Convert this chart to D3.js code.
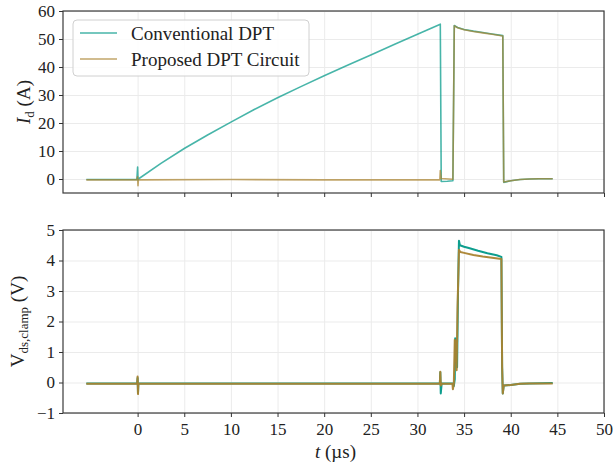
<!DOCTYPE html>
<html>
<head>
<meta charset="utf-8">
<script src="https://cdn.jsdelivr.net/npm/d3@7"></script>
<style>
  body { margin: 0; background: #fff; }
  svg { display: block; font-family: "Liberation Serif", "DejaVu Serif", serif; }
  .grid .tick line { stroke: #ebebeb; stroke-width: 1; }
  .grid path { display: none; }
  .axis .tick text { font-family: "Liberation Serif", "DejaVu Serif", serif; font-size: 17px; fill: #222; }
  .axis .tick line { stroke: #333; }
</style>
</head>
<body>
<svg width="613" height="465"></svg>
<script>
// time axis ticks (µs)
var t_ticks = [0, 5, 10, 15, 20, 25, 30, 35, 40, 45, 50];
var id_ticks = [0, 10, 20, 30, 40, 50, 60];
var v_ticks = [-1, 0, 1, 2, 3, 4, 5];

var series_names = ["Conventional DPT", "Proposed DPT Circuit"];

// drain current I_d (A), [t, value]
var id_conventional = [
    [-5.5, -0.2], [-0.08, -0.2], [0, 4.3], [0.04, -0.4], [0.08, 0],
    [2.5, 5.6], [5, 10.9], [7.5, 15.7], [10, 20.3], [12.5, 24.8], [15, 29.0],
    [17.5, 33.0], [20, 36.9], [22.5, 40.6], [25, 44.3], [27.5, 48.0], [30, 51.7], [32.45, 55.3],
    [32.55, -0.9], [33.2, -0.8], [33.8, -0.6],
    [33.95, 54.8], [34.3, 54.1], [35, 53.4], [36, 52.8], [37, 52.3], [38, 51.8], [39.15, 51.2],
    [39.25, -1.2], [40, -0.6], [41, -0.2], [42, 0], [43, 0.1], [44.5, 0.1]
];
var id_proposed = [
    [-5.5, -0.3], [-0.08, -0.3], [0, 0.8], [0.04, -2.4], [0.08, -0.3],
    [10, -0.2], [20, -0.3], [32.4, -0.3], [32.45, 3.0], [32.55, 0.2], [33.8, -0.1],
    [33.95, 54.7], [34.3, 54.0], [35, 53.3], [36, 52.7], [37, 52.2], [38, 51.7], [39.15, 51.1],
    [39.25, -1.1], [40, -0.6], [41, -0.2], [42, 0], [43, 0.1], [44.5, 0.1]
];

// clamp voltage V_ds,clamp (V), [t, value]
var v_conventional = [
    [-5.5, -0.03], [-0.05, -0.03], [0, 0.15], [0.04, -0.35], [0.08, -0.03],
    [32.4, -0.03], [32.45, 0.34], [32.5, -0.36], [32.6, -0.03], [33.8, -0.03],
    [33.9, -0.12], [34.0, 0.1], [34.05, 1.45], [34.15, 1.4], [34.25, 0.5], [34.35, 3.0],
    [34.45, 4.65], [34.55, 4.5], [35, 4.45], [35.6, 4.4], [36.5, 4.32], [37.5, 4.24], [38.5, 4.17], [39.0, 4.12],
    [39.08, 0.5], [39.15, -0.36], [39.25, -0.1], [40, -0.08], [41, -0.04], [42, -0.03], [44.5, -0.02]
];
var v_proposed = [
    [-5.5, -0.04], [-0.05, -0.04], [0, 0.2], [0.04, -0.38], [0.08, -0.04],
    [32.4, -0.04], [32.45, 0.35], [32.5, -0.1], [32.6, -0.04], [33.75, -0.04],
    [33.8, -0.22], [33.9, -0.05], [34.0, 1.4], [34.1, 1.3], [34.2, 0.4], [34.3, 2.5],
    [34.45, 4.35], [34.6, 4.28], [35, 4.25], [36, 4.18], [37, 4.13], [38, 4.09], [39.0, 4.05],
    [39.08, 0.5], [39.15, -0.36], [39.25, -0.1], [40, -0.08], [41, -0.04], [42, -0.03], [44.5, -0.03]
];

var color_teal = "#009988";
var color_gold = "#aa8330";

var svg = d3.select("svg");
var left = 63, right = 604;

var x = d3.scaleLinear().domain([-8, 50]).range([left, right]);

var panels = [
    { top: 11, bottom: 193, domain: [-5, 60], ticks: id_ticks, data: [id_conventional, id_proposed],
      opacity: 0.72, width: 1.6, labels: false },
    { top: 230, bottom: 413, domain: [-1, 5], ticks: v_ticks, data: [v_conventional, v_proposed],
      opacity: 0.95, width: 2.0, labels: true }
];

panels.forEach(function(p) {
    var y = d3.scaleLinear().domain(p.domain).range([p.bottom, p.top]);
    var g = svg.append("g");

    // grid
    g.append("g").attr("class", "grid")
        .attr("transform", "translate(0," + p.bottom + ")")
        .call(d3.axisBottom(x).tickValues(t_ticks).tickSize(-(p.bottom - p.top)).tickFormat(""));
    g.append("g").attr("class", "grid")
        .attr("transform", "translate(" + left + ",0)")
        .call(d3.axisLeft(y).tickValues(p.ticks).tickSize(-(right - left)).tickFormat(""));

    // lines
    var line = d3.line().x(function(d) { return x(d[0]); }).y(function(d) { return y(d[1]); });
    var cols = [color_teal, color_gold];
    p.data.forEach(function(s, i) {
        g.append("path").datum(s)
            .attr("d", line)
            .attr("fill", "none")
            .attr("stroke", cols[i])
            .attr("stroke-opacity", p.opacity)
            .attr("stroke-width", p.width)
            .attr("stroke-linejoin", "round");
    });

    // frame
    g.append("rect")
        .attr("x", left).attr("y", p.top)
        .attr("width", right - left).attr("height", p.bottom - p.top)
        .attr("fill", "none").attr("stroke", "#3a3a3a").attr("stroke-width", 1.2);

    // axes
    var yAxis = g.append("g").attr("class", "axis")
        .attr("transform", "translate(" + left + ",0)")
        .call(d3.axisLeft(y).tickValues(p.ticks).tickSize(4).tickPadding(4)
            .tickFormat(function(d) { return d < 0 ? "\u2212" + Math.abs(d) : d; }));
    yAxis.select(".domain").remove();

    var xAxis = g.append("g").attr("class", "axis")
        .attr("transform", "translate(0," + p.bottom + ")")
        .call(d3.axisBottom(x).tickValues(t_ticks).tickSize(4).tickPadding(6)
            .tickFormat(p.labels ? d3.format("d") : ""));
    xAxis.select(".domain").remove();
    p.y = y;
});

// y labels
var yl1 = svg.append("text")
    .attr("transform", "translate(30," + (panels[0].top + panels[0].bottom) / 2 + ") rotate(-90)")
    .attr("text-anchor", "middle").attr("font-size", 19).attr("fill", "#222");
yl1.append("tspan").attr("font-style", "italic").text("I");
yl1.append("tspan").attr("font-size", 13).attr("dy", 4).text("d");
yl1.append("tspan").attr("dy", -4).text(" (A)");

var yl2 = svg.append("text")
    .attr("transform", "translate(24," + (panels[1].top + panels[1].bottom) / 2 + ") rotate(-90)")
    .attr("text-anchor", "middle").attr("font-size", 19).attr("fill", "#222");
yl2.append("tspan").text("V");
yl2.append("tspan").attr("font-size", 13).attr("dy", 4).text("ds,clamp");
yl2.append("tspan").attr("dy", -4).text(" (V)");

// x label
var xl = svg.append("text")
    .attr("x", (left + right) / 2 + 2).attr("y", 458)
    .attr("text-anchor", "middle").attr("font-size", 19).attr("fill", "#222");
xl.append("tspan").attr("font-style", "italic").text("t");
xl.append("tspan").text(" (\u00b5s)");

// legend
var lg = svg.append("g").attr("transform", "translate(" + (left + 10) + "," + (panels[0].top + 9) + ")");
lg.append("rect").attr("width", 236).attr("height", 56).attr("rx", 4)
    .attr("fill", "#fff").attr("fill-opacity", 0.85).attr("stroke", "#d0d0d0");
[color_teal, color_gold].forEach(function(c, i) {
    lg.append("line").attr("x1", 7).attr("x2", 44).attr("y1", 13 + i * 26).attr("y2", 13 + i * 26)
        .attr("stroke", c).attr("stroke-opacity", 0.72).attr("stroke-width", 1.6);
    lg.append("text").attr("x", 58).attr("y", 19.5 + i * 26)
        .attr("font-size", 19).attr("fill", "#222").text(series_names[i]);
});
</script>
</body>
</html>
